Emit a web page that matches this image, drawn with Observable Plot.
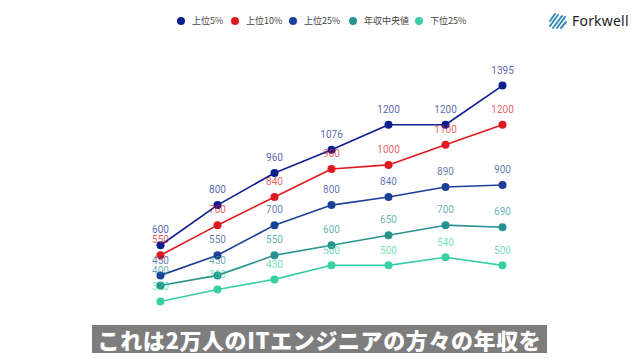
<!DOCTYPE html>
<html><head><meta charset="utf-8">
<script src="https://cdn.jsdelivr.net/npm/d3@7"></script>
<script src="https://cdn.jsdelivr.net/npm/@observablehq/plot@0.6"></script>
<style>
html,body{margin:0;padding:0;background:#fff;width:640px;height:360px;overflow:hidden;font-family:"Noto Sans CJK JP","Noto Sans",sans-serif;}
#wrap{position:relative;width:640px;height:360px;}
#chart{position:absolute;left:0;top:0;}
#legend{position:absolute;top:14px;left:0;width:640px;height:16px;font-size:9px;color:#444;}
.li{position:absolute;top:0;display:flex;align-items:center;white-space:nowrap;}
.dot{width:8px;height:8px;border-radius:50%;margin-right:7px;}
#logo{position:absolute;left:548px;top:11px;display:flex;align-items:center;}
#logo span{font-family:"Noto Sans","Open Sans",sans-serif;font-size:14px;color:#222;margin-left:4px;letter-spacing:0.2px;}
#caption{position:absolute;left:92px;top:325px;width:455px;height:28px;background:#7d7d7d;color:#fff;font-weight:900;font-size:22px;line-height:28px;text-align:center;letter-spacing:0.6px;font-family:"Noto Sans CJK JP",sans-serif;}
</style></head>
<body><div id="wrap"><div id="chart"></div><div id="legend"></div><div id="logo"></div><div id="caption"></div></div>
<script>
const categories = ["1","2","3","4","5","6","7"];
const seriesNames = ["上位5%","上位10%","上位25%","年収中央値","下位25%"];
const seriesColors = ["#0d1e8e","#e0191f","#1c3f98","#27928f","#38cfa6"];
const top5 = [600, 800, 960, 1076, 1200, 1200, 1395];
const top10 = [550, 700, 840, 980, 1000, 1100, 1200];
const top25 = [450, 550, 700, 800, 840, 890, 900];
const median = [400, 450, 550, 600, 650, 700, 690];
const bottom25 = [320, 380, 430, 500, 500, 540, 500];
const legendX = [177, 231, 289, 349, 415];
const captionText = "これは2万人のITエンジニアの方々の年収を";

const allSeries = [top5, top10, top25, median, bottom25];
const rows = [];
allSeries.forEach((vals, si) => vals.forEach((v, i) => rows.push({cat: categories[i], value: v, series: seriesNames[si]})));

const chart = Plot.plot({
  width: 640, height: 360,
  marginLeft: 159, marginRight: 138, marginTop: 64, marginBottom: 55,
  x: {type: "point", domain: categories, padding: 0, axis: null},
  y: {domain: [300, 1500], axis: null},
  color: {domain: seriesNames, range: seriesColors},
  marks: [
    Plot.line(rows, {x: "cat", y: "value", z: "series", stroke: "series", strokeWidth: 1.6}),
    Plot.dot(rows, {x: "cat", y: "value", fill: "series", r: 4}),
    Plot.text(rows, {x: "cat", y: "value", text: d => String(d.value), fill: "series", fillOpacity: 0.72, dy: -15, fontSize: 10, fontFamily: "Roboto, 'Noto Sans', sans-serif"})
  ]
});
document.getElementById("chart").appendChild(chart);

const lg = document.getElementById("legend");
seriesNames.forEach((n, i) => {
  const el = document.createElement("div");
  el.className = "li";
  el.style.left = legendX[i] + "px";
  el.innerHTML = `<div class="dot" style="background:${seriesColors[i]}"></div>${n}`;
  lg.appendChild(el);
});

document.getElementById("logo").innerHTML = `<svg width="20" height="18" viewBox="0 0 20 18">
<defs><linearGradient id="g" x1="0" y1="0" x2="1" y2="1"><stop offset="0" stop-color="#2a4bb0"/><stop offset="1" stop-color="#3cc7c0"/></linearGradient></defs>
<g stroke="url(#g)" stroke-width="2" stroke-linecap="round">
<line x1="2" y1="9" x2="7" y2="2"/><line x1="2" y1="14" x2="10" y2="3"/><line x1="5" y1="16" x2="14" y2="4"/><line x1="9" y1="16" x2="17" y2="5"/><line x1="13" y1="16" x2="18" y2="10"/></g></svg><span>Forkwell</span>`;
document.getElementById("caption").textContent = captionText;
</script></body></html>
